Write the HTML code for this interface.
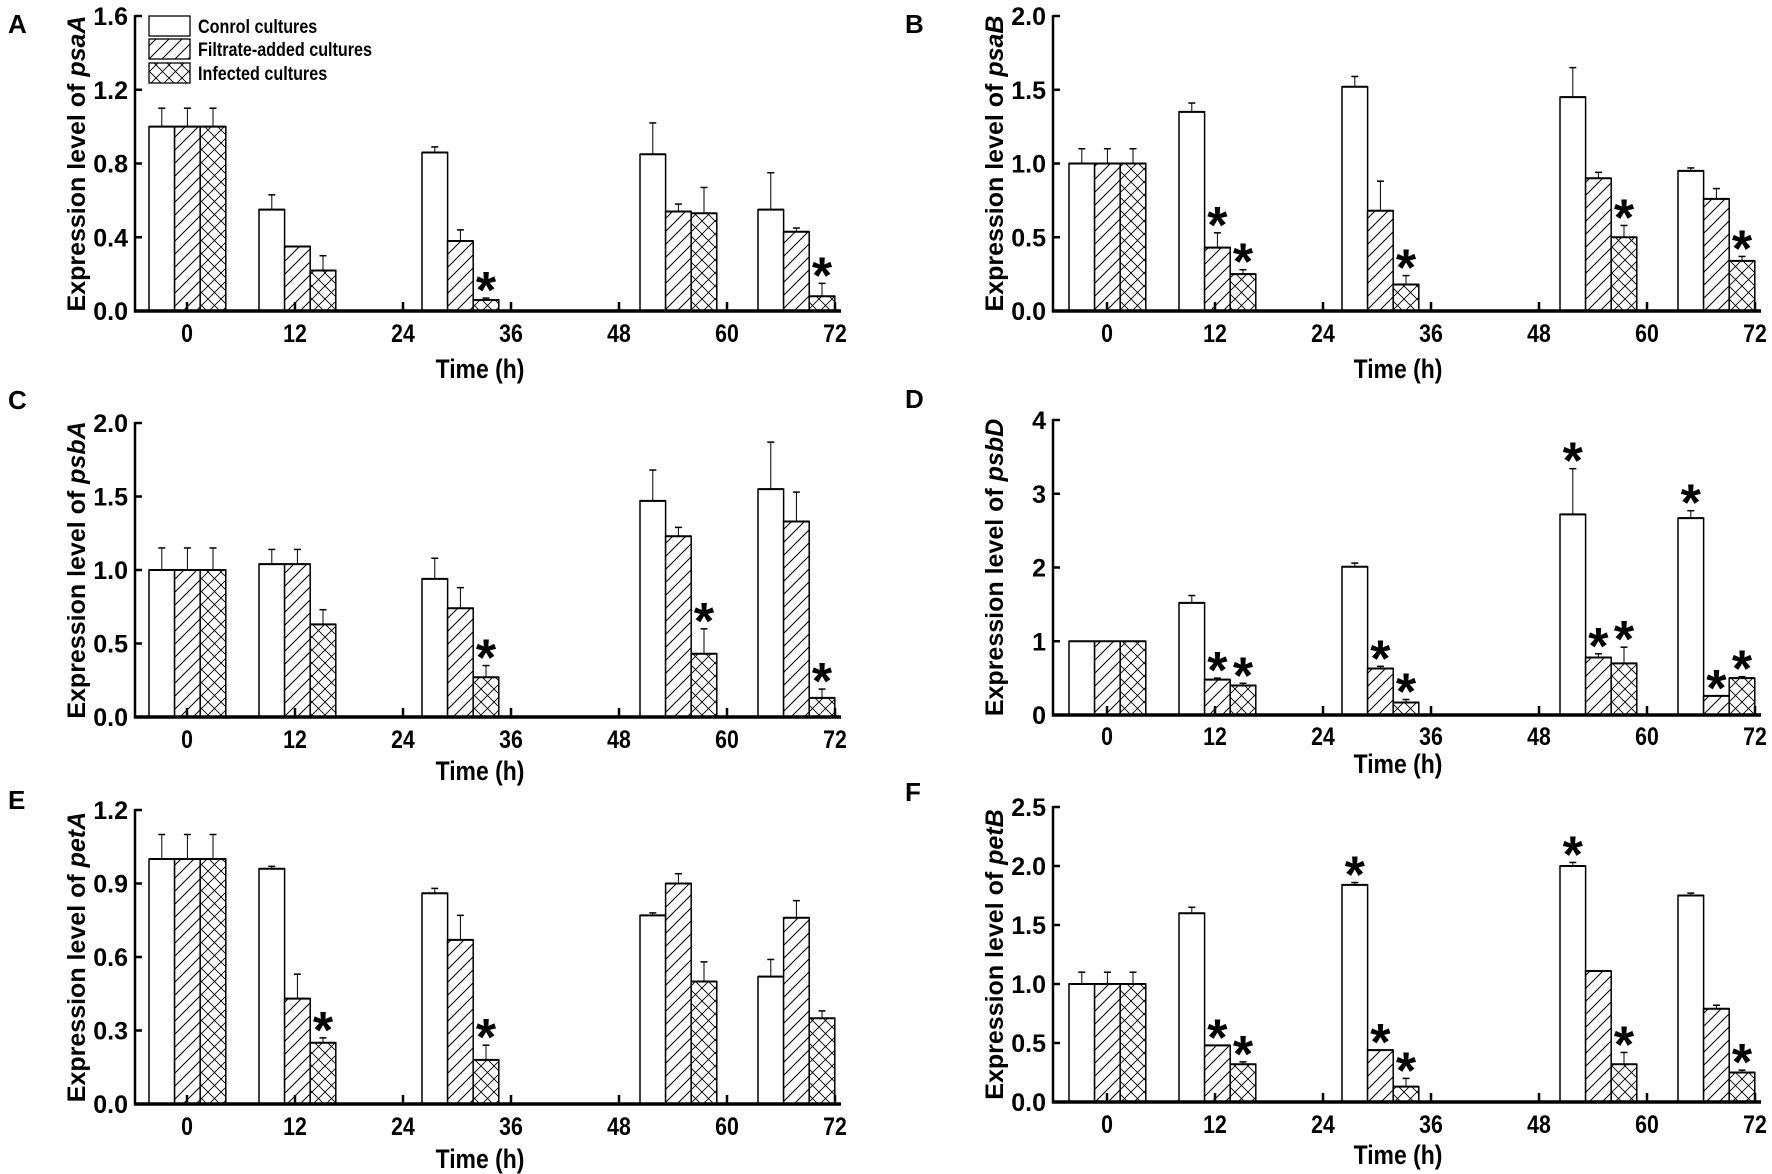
<!DOCTYPE html>
<html><head><meta charset="utf-8"><style>
html,body{margin:0;padding:0;background:#fff;}
svg{display:block;}
text{font-family:"Liberation Sans",Arial,sans-serif;fill:#000;}
</style></head><body>
<svg id="s" width="1772" height="1174" viewBox="0 0 1772 1174" xmlns="http://www.w3.org/2000/svg">
<defs>
<pattern id="hat" patternUnits="userSpaceOnUse" width="13" height="13">
<path d="M-2,15 L15,-2 M-2,2 L2,-2 M11,15 L15,11" stroke="#000" stroke-width="1"/>
</pattern>
<pattern id="crs" patternUnits="userSpaceOnUse" width="13" height="13">
<path d="M-2,15 L15,-2 M-2,2 L2,-2 M11,15 L15,11 M-2,-2 L15,15 M11,-2 L15,2 M-2,11 L2,15" stroke="#000" stroke-width="0.9"/>
</pattern>
</defs>
<g id="g"></g>
</svg>
<script>
var P=[
{L:'A',gene:'psaA',ax:135,l0:187,y0:311,yt:16,max:1.6,st:0.4,dec:1,lx:8,ly:33,tly:378,xly:342,
d:[[[1,.1],[1,.1],[1,.1]],[[.55,.08],[.35,0],[.22,.08]],[[.86,.03],[.38,.06],[.06,.01,1]],[[.85,.17],[.54,.04],[.53,.14]],[[.55,.2],[.43,.02],[.08,.07,1]]]},
{L:'B',gene:'psaB',ax:1053,l0:1107,y0:311,yt:16,max:2,st:0.5,dec:1,lx:905,ly:33,tly:378,xly:342,
d:[[[1,.1],[1,.1],[1,.1]],[[1.35,.06],[.43,.1,1],[.25,.03,1]],[[1.52,.07],[.68,.2],[.18,.06,1]],[[1.45,.2],[.9,.04],[.5,.08,1]],[[.95,.02],[.76,.07],[.34,.03,1]]]},
{L:'C',gene:'psbA',ax:135,l0:187,y0:717,yt:423,max:2,st:0.5,dec:1,lx:8,ly:409,tly:780,xly:748,
d:[[[1,.15],[1,.15],[1,.15]],[[1.04,.1],[1.04,.1],[.63,.1]],[[.94,.14],[.74,.14],[.27,.08,1]],[[1.47,.21],[1.23,.06],[.43,.17,1]],[[1.55,.32],[1.33,.2],[.13,.06,1]]]},
{L:'D',gene:'psbD',ax:1053,l0:1107,y0:715,yt:420,max:4,st:1,dec:0,lx:905,ly:408,tly:773,xly:745,
d:[[[1,0],[1,0],[1,0]],[[1.52,.1],[.48,.02,1],[.4,.03,1]],[[2.01,.05],[.63,.03,1],[.17,.04,1]],[[2.72,.62,1],[.78,.05,1],[.7,.22,1]],[[2.67,.1,1],[.26,0,1],[.5,.02,1]]]},
{L:'E',gene:'petA',ax:135,l0:187,y0:1104,yt:810,max:1.2,st:0.3,dec:1,lx:8,ly:809,tly:1168,xly:1135,
d:[[[1,.1],[1,.1],[1,.1]],[[.96,.01],[.43,.1],[.25,.02,1]],[[.86,.02],[.67,.1],[.18,.06,1]],[[.77,.01],[.9,.04],[.5,.08]],[[.52,.07],[.76,.07],[.35,.03]]]},
{L:'F',gene:'petB',ax:1053,l0:1107,y0:1102,yt:807,max:2.5,st:0.5,dec:1,lx:905,ly:801,tly:1164,xly:1133,
d:[[[1,.1],[1,.1],[1,.1]],[[1.6,.05],[.48,0,1],[.32,.02,1]],[[1.84,.02,1],[.44,0,1],[.13,.07,1]],[[2,.03,1],[1.11,0],[.32,.1,1]],[[1.75,.02],[.79,.03],[.25,.02,1]]]}
];
var off=[-38,72,235,453,571],bw=25.6,step=108,h='';
P.forEach(function(p){
 var sc=(p.y0-p.yt)/p.max;
 function Y(v){return p.y0-v*sc;}
 p.d.forEach(function(g,gi){
  g.forEach(function(b,bi){
   var x=p.l0+off[gi]+bi*bw,y=Y(b[0]);
   var f=bi==0?'#fff':(bi==1?'url(#hat)':'url(#crs)');
   h+='<rect x="'+x+'" y="'+y+'" width="'+bw+'" height="'+(p.y0-y)+'" fill="#fff"/>';
   h+='<rect x="'+x+'" y="'+y+'" width="'+bw+'" height="'+(p.y0-y)+'" fill="'+f+'" stroke="#000" stroke-width="1.5"/>';
   h+='<line x1="'+x+'" x2="'+(x+bw)+'" y1="'+y+'" y2="'+y+'" stroke="#000" stroke-width="2"/>';
   var cx=x+bw/2,top=y;
   if(b[1]>0){var ye=Y(b[0]+b[1]);top=ye;
    h+='<line x1="'+cx+'" x2="'+cx+'" y1="'+y+'" y2="'+ye+'" stroke="#000" stroke-width="1"/>';
    h+='<line x1="'+(cx-3.5)+'" x2="'+(cx+3.5)+'" y1="'+ye+'" y2="'+ye+'" stroke="#000" stroke-width="1.5"/>';}
   if(b[2]) h+='<text x="'+cx+'" y="'+(top+10)+'" font-size="52" font-weight="bold" text-anchor="middle">*</text>';
  });
 });
 var xe=p.l0+6*step+6;
 h+='<line x1="'+p.ax+'" x2="'+p.ax+'" y1="'+(p.yt-1)+'" y2="'+(p.y0+1.5)+'" stroke="#000" stroke-width="2.5"/>';
 h+='<line x1="'+(p.ax-1)+'" x2="'+xe+'" y1="'+p.y0+'" y2="'+p.y0+'" stroke="#000" stroke-width="3.5"/>';
 for(var v=0;v<=p.max+1e-9;v+=p.st){var y=Y(v);
  h+='<line x1="'+p.ax+'" x2="'+(p.ax+7)+'" y1="'+y+'" y2="'+y+'" stroke="#000" stroke-width="2.5"/>';
  h+='<text x="'+(p.ax-7)+'" y="'+(y+9)+'" font-size="25" font-weight="bold" text-anchor="end">'+v.toFixed(p.dec)+'</text>';}
 for(var i=0;i<=6;i++){var x=p.l0+i*step;
  h+='<line x1="'+x+'" x2="'+x+'" y1="'+p.y0+'" y2="'+(p.y0-9)+'" stroke="#000" stroke-width="2.5"/>';
  h+='<text x="'+x+'" y="'+p.xly+'" font-size="25" font-weight="bold" text-anchor="middle" transform="translate('+x+',0) scale(0.85,1) translate('+(-x)+',0)">'+(i*12)+'</text>';}
 var tcx=p.ax+345;
 h+='<text x="'+tcx+'" y="'+p.tly+'" font-size="27" font-weight="bold" text-anchor="middle" transform="translate('+tcx+',0) scale(0.85,1) translate('+(-tcx)+',0)">Time (h)</text>';
 var ylx=p.ax-60,ylc=(p.y0+p.yt)/2;
 h+='<text transform="translate('+(ylx+10)+','+ylc+') rotate(-90)" font-size="25" font-weight="bold" text-anchor="middle">Expression level of <tspan font-style="italic">'+p.gene+'</tspan></text>';
 h+='<text x="'+p.lx+'" y="'+p.ly+'" font-size="26" font-weight="bold">'+p.L+'</text>';
});
var lg=[['#fff','Conrol cultures',16],['url(#hat)','Filtrate-added cultures',39],['url(#crs)','Infected cultures',63]];
lg.forEach(function(l){
 h+='<rect x="149" y="'+l[2]+'" width="41" height="20" fill="#fff"/>';
 h+='<rect x="149" y="'+l[2]+'" width="41" height="20" fill="'+l[0]+'" stroke="#000" stroke-width="1.3"/>';
 h+='<text x="198" y="'+(l[2]+17)+'" font-size="19" font-weight="bold" transform="translate(198,0) scale(0.85,1) translate(-198,0)">'+l[1]+'</text>';
});
document.getElementById('g').innerHTML=h;
</script>
</body></html>
